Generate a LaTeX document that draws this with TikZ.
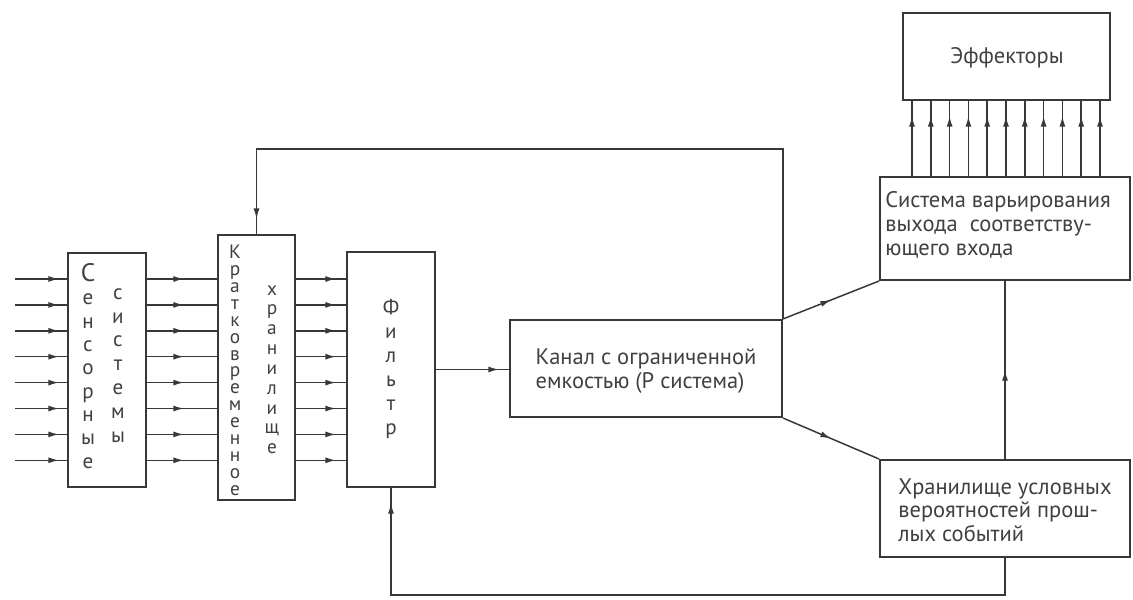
\documentclass[tikz,border=0pt]{standalone}
\usepackage{fontspec}
\setmainfont{PT Sans}
\usepackage{tikz}
\usetikzlibrary{arrows.meta, positioning, calc, decorations.markings}
\definecolor{inkline}{gray}{0.22}
\definecolor{inktext}{gray}{0.25}
\setlength{\lineskiplimit}{-50pt}

\tikzset{
  block/.style={draw=inkline, line width=1.2pt, inner sep=0pt},
  link/.style={draw=inkline, line width=0.85pt},
  tipat/.style={link, postaction={decorate},
    decoration={markings, mark=at position #1 with {\arrow{Latex[length=6pt,width=3.4pt]}}}},
  boxtext/.style={text=inktext, inner sep=0pt, align=left, font=\fontsize{12.8}{13.5}\selectfont},
  letters/.style={text=inktext, inner sep=0pt, align=center, anchor=north}
}

\begin{document}
\begin{tikzpicture}[x=0.02cm, y=-0.02cm]
    \useasboundingbox (0,0) rectangle (1133,599);

    % Boxes
    \node[block, minimum width=1.56cm, minimum height=4.68cm] (sens) at (107,370) {};
    \node[block, minimum width=1.54cm, minimum height=5.3cm] (stm) at (256.5,367.5) {};
    \node[block, minimum width=1.76cm, minimum height=4.7cm] (filt) at (391,369.5) {};
    \node[block, minimum width=5.44cm, minimum height=1.94cm] (chan) at (646,368.5) {};
    \node[block, minimum width=4.14cm, minimum height=1.74cm] (eff) at (1006.5,56.5) {};
    \node[block, minimum width=5cm, minimum height=2.06cm] (vary) at (1005,228.5) {};
    \node[block, minimum width=5cm, minimum height=1.94cm] (prob) at (1005,508.5) {};

    % Vertical labels
    \node[letters, font=\fontsize{12}{13.3}\selectfont] (senstext) at (88,263) {{\Large С}\\е\\н\\с\\о\\р\\н\\ы\\е};
    \node[letters, font=\fontsize{12}{13.6}\selectfont] (senstext2) at (118,288) {с\\и\\с\\т\\е\\м\\ы};
    \node[letters, font=\fontsize{11}{9.6}\selectfont] (stmtext) at (235,245) {К\\р\\а\\т\\к\\о\\в\\р\\е\\м\\е\\н\\н\\о\\е};
    \node[letters, font=\fontsize{11}{11.3}\selectfont] (stmtext2) at (272,285) {х\\р\\а\\н\\и\\л\\и\\щ\\е};
    \node[letters, font=\fontsize{12}{13.6}\selectfont] (filttext) at (391,299) {Ф\\и\\л\\ь\\т\\р};

    % Box texts
    \node[boxtext] (chantext) at (646,371) {Канал с ограниченной\\емкостью (Р система)};
    \node[boxtext] (efftext) at (1007,58) {Эффекторы};
    \node[boxtext, anchor=west] (varytext) at (885,225) {Система варьирования\\выхода\ \ соответству-\\ющего входа};
    \node[boxtext, anchor=west] (probtext) at (898,510) {Хранилище условных\\вероятностей прош-\\лых событий};

    % Parallel channels
    \foreach \i in {0,...,7} {
        \coordinate (in\i) at (15,279+25.9*\i);
        \draw[tipat=-0.16cm] (in\i) -- (in\i -| sens.west);
        \draw[tipat=-0.66cm] (in\i -| sens.east) -- (in\i -| stm.west);
        \draw[tipat=-0.2cm] (in\i -| stm.east) -- (in\i -| filt.west);
    }

    % Outputs to effectors
    \foreach \i in {0,...,10} {
        \coordinate (out\i) at (912+18.8*\i,0);
        \draw[tipat=-0.3cm] (vary.north -| out\i) -- (eff.south -| out\i);
    }

    % Main links
    \draw[tipat=-0.2cm] (filt.east) -- (filt.east -| chan.west);
    \draw[tipat=0.5] (chan.north east) -- (vary.south west);
    \draw[tipat=0.5] (chan.south east) -- (prob.north west);
    \draw[tipat=0.5] (prob.north) -- (vary.south);

    % Feedback loops
    \coordinate (top) at (0,149);
    \coordinate (low) at (0,595);
    \draw[tipat=-0.3cm] (chan.north east) |- (top -| stm.north) -- (stm.north);
    \draw[tipat=-0.3cm] (prob.south) |- (low -| filt.south) -- (filt.south);
\end{tikzpicture}
\end{document}
